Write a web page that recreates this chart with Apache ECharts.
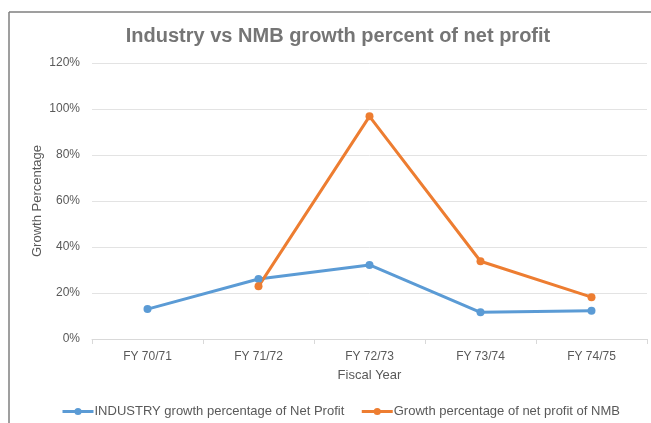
<!DOCTYPE html>
<html>
<head>
<meta charset="utf-8">
<script src="https://cdn.jsdelivr.net/npm/echarts@6/dist/echarts.min.js"></script>
<style>
  html, body { margin: 0; padding: 0; background: #fff; }
  #chart { width: 651px; height: 423px; }
</style>
</head>
<body>
<div id="chart"></div>
<script>
let years = ['FY 70/71', 'FY 71/72', 'FY 72/73', 'FY 73/74', 'FY 74/75'];
let industry = [13.0, 26.1, 32.2, 11.6, 12.3];
let nmb = [null, 22.9, 96.8, 33.8, 18.2];
let yTicks = [0, 20, 40, 60, 80, 100, 120];

let chart = echarts.init(document.getElementById('chart'));
let grey = '#595959';
let font = 'Liberation Sans, Arial, sans-serif';

option = {
  backgroundColor: '#fff',
  textStyle: { fontFamily: font },
  title: {
    text: 'Industry vs NMB growth percent of net profit',
    left: 333,
    textAlign: 'center',
    top: 21,
    textStyle: { color: '#757575', fontSize: 20, fontWeight: 'bold', fontFamily: font }
  },
  graphic: [
    { type: 'line', shape: { x1: 9, y1: 12, x2: 651, y2: 12 }, style: { stroke: '#7f7f7f', lineWidth: 1.5 } },
    { type: 'line', shape: { x1: 9, y1: 12, x2: 9, y2: 423 }, style: { stroke: '#7f7f7f', lineWidth: 1.5 } }
  ],
  legend: {
    top: 400,
    left: 56,
    itemWidth: 31,
    itemHeight: 9,
    itemGap: 16,
    lineStyle: { width: 3 },
    textStyle: { color: grey, fontSize: 13, fontFamily: font, padding: [0, 0, 0, -4] },
    data: ['INDUSTRY growth percentage of Net Profit', 'Growth percentage of net profit of NMB']
  },
  grid: { left: 92, right: 4, top: 63, bottom: 84 },
  xAxis: {
    type: 'category',
    data: years,
    boundaryGap: true,
    name: 'Fiscal Year',
    nameLocation: 'middle',
    nameGap: 30,
    nameTextStyle: { color: grey, fontSize: 13 },
    axisLine: { lineStyle: { color: '#d9d9d9' } },
    axisTick: { show: true, length: 5, lineStyle: { color: '#d9d9d9' } },
    axisLabel: { color: grey, fontSize: 12, margin: 12 }
  },
  yAxis: {
    type: 'value',
    min: yTicks[0],
    max: yTicks[yTicks.length - 1],
    interval: 20,
    name: 'Growth Percentage',
    nameLocation: 'middle',
    nameGap: 48,
    nameMoveOverlap: false,
    nameTextStyle: { color: grey, fontSize: 13 },
    axisLine: { show: false },
    axisTick: { show: false },
    axisLabel: { color: grey, fontSize: 12, margin: 12, formatter: '{value}%' },
    splitLine: { lineStyle: { color: '#e3e3e3', width: 1 } }
  },
  series: [
    {
      name: 'INDUSTRY growth percentage of Net Profit',
      type: 'line',
      data: industry,
      symbol: 'circle',
      symbolSize: 8,
      color: '#5B9BD5',
      lineStyle: { width: 3 }
    },
    {
      name: 'Growth percentage of net profit of NMB',
      type: 'line',
      data: nmb,
      symbol: 'circle',
      symbolSize: 8,
      color: '#ED7D31',
      lineStyle: { width: 3 }
    }
  ]
};
chart.setOption(option);
</script>
</body>
</html>
